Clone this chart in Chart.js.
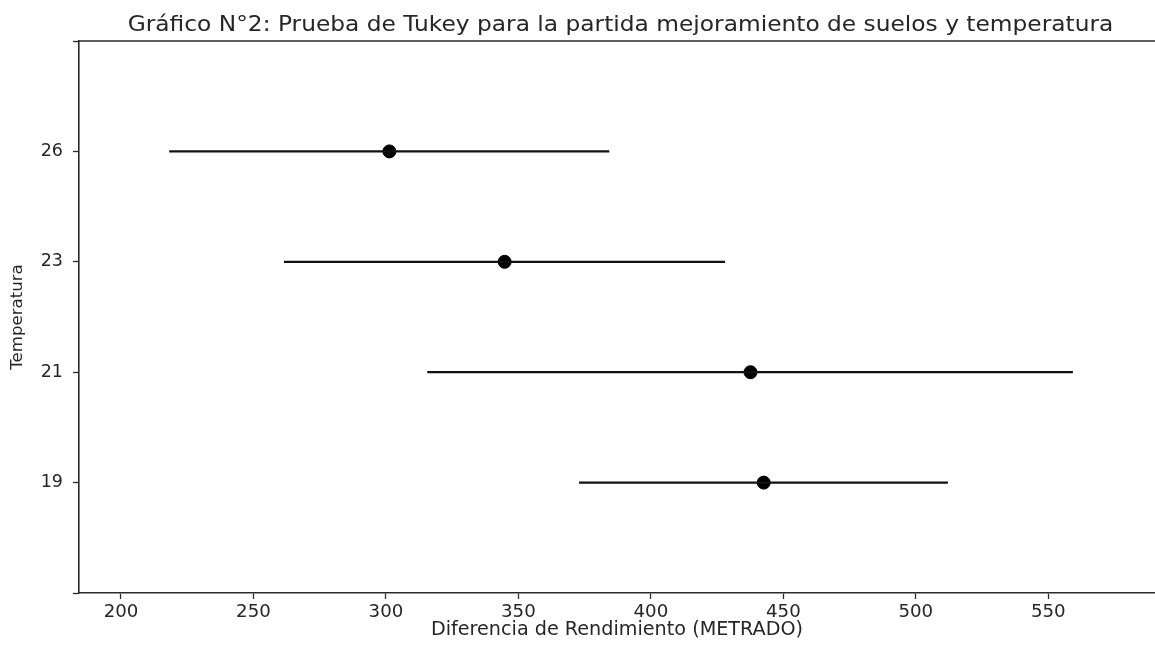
<!DOCTYPE html>
<html>
<head>
<meta charset="utf-8">
<script src="https://cdn.jsdelivr.net/npm/chart.js@4.4.1/dist/chart.umd.min.js"></script>
<style>
html,body{margin:0;padding:0;background:#fff;overflow:hidden;}
#wrap{position:relative;width:1155px;height:646px;}
</style>
</head>
<body>
<div id="wrap"><canvas id="c" width="1155" height="646"></canvas></div>
<script>
const categories = ['19', '21', '23', '26'];
const means = [442.6, 437.6, 344.8, 301.3];
const lowers = [372.9, 315.6, 261.5, 218.2];
const uppers = [512.1, 559.3, 428.0, 384.3];
const xTicks = [200, 250, 300, 350, 400, 450, 500, 550];
const titleText = 'Gráfico N°2: Prueba de Tukey para la partida mejoramiento de suelos y temperatura';
const xLabel = 'Diferencia de Rendimiento (METRADO)';
const yLabel = 'Temperatura';

const FONT = 'DejaVu Sans';
const TXT = '#262626';
const AX = '#2a2a2a';

const datasets = categories.map((c, i) => ({
  type: 'line',
  data: [{x: lowers[i], y: i}, {x: uppers[i], y: i}],
  borderColor: '#111',
  borderWidth: 2.2,
  pointRadius: 0,
  showLine: true,
  fill: false
}));
datasets.push({
  type: 'scatter',
  data: means.map((m, i) => ({x: m, y: i})),
  backgroundColor: '#000',
  borderColor: '#000',
  pointRadius: 6.5,
  pointHoverRadius: 6.5
});

const spinePlugin = {
  id: 'spines',
  afterDraw(chart) {
    const {ctx, chartArea} = chart;
    ctx.save();
    ctx.strokeStyle = AX;
    ctx.lineWidth = 1.6;
    ctx.beginPath();
    ctx.moveTo(chartArea.left, chartArea.top);
    ctx.lineTo(chartArea.right, chartArea.top);
    ctx.stroke();
    ctx.fillStyle = TXT;
    ctx.font = '20.5px "' + FONT + '"';
    ctx.textAlign = 'center';
    ctx.textBaseline = 'middle';
    ctx.translate(620.5, 25.5);
    ctx.scale(1.137, 1);
    ctx.fillText(titleText, 0, 0);
    ctx.restore();
  }
};

new Chart(document.getElementById('c'), {
  type: 'scatter',
  data: {datasets},
  options: {
    responsive: false,
    animation: false,
    events: [],
    layout: {autoPadding: false, padding: {top: 41, right: 0, left: 0, bottom: 0}},
    plugins: {legend: {display: false}, tooltip: {enabled: false}, title: {display: false}},
    scales: {
      x: {
        type: 'linear',
        min: 184.15,
        max: 590.28,
        afterBuildTicks: s => { s.ticks = xTicks.map(v => ({value: v})); },
        afterFit: s => { s.height = 53; },
        grid: {drawOnChartArea: false, tickLength: 6, tickColor: AX, tickWidth: 1.3},
        border: {display: true, color: AX, width: 1.6},
        ticks: {color: TXT, font: {family: FONT, size: 18.2}, padding: 2, maxRotation: 0},
        title: {display: true, text: xLabel, color: TXT, font: {family: FONT, size: 19.2}, padding: {top: 0, bottom: 4}}
      },
      y: {
        type: 'linear',
        min: -1,
        max: 4,
        afterBuildTicks: s => { s.ticks = [-1, 0, 1, 2, 3, 4].map(v => ({value: v})); },
        afterFit: s => { s.width = 79; },
        grid: {drawOnChartArea: false, tickLength: 6, tickColor: AX, tickWidth: 1.3},
        border: {display: true, color: AX, width: 1.6},
        ticks: {
          color: TXT, font: {family: FONT, size: 17.5}, padding: 10,
          callback: v => (v >= 0 && v < categories.length) ? categories[v] : ''
        },
        title: {display: true, text: yLabel, color: TXT, font: {family: FONT, size: 16.6}, padding: {top: 8, bottom: 0}}
      }
    }
  },
  plugins: [spinePlugin]
});
</script>
</body>
</html>
